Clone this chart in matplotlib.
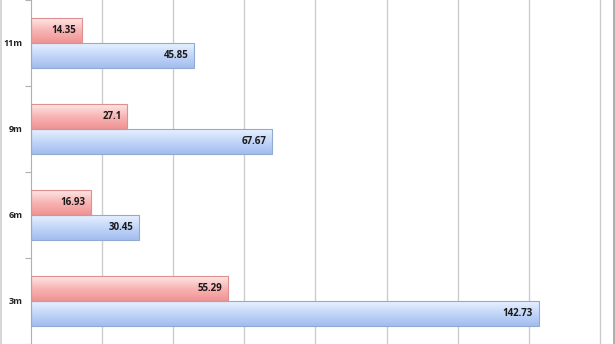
import numpy as np
import matplotlib
matplotlib.use('Agg')
import matplotlib.pyplot as plt
from matplotlib.colors import LinearSegmentedColormap
from matplotlib.lines import Line2D

categories = ['3m', '6m', '9m', '11m']
red_vals = [55.29, 16.93, 27.1, 14.35]
blue_vals = [142.73, 30.45, 67.67, 45.85]

plt.rcParams['font.family'] = ['Open Sans', 'DejaVu Sans']

fig = plt.figure(figsize=(6.15, 3.44), dpi=100)
ax = fig.add_axes([31 / 615, 0, 584 / 615, 1])

xmax = 584 / 3.556
h = 0.29
y = np.arange(len(categories))

red_cmap = LinearSegmentedColormap.from_list('r', ['#ffe6e6', '#f9b4b4', '#f09393'])
blue_cmap = LinearSegmentedColormap.from_list('b', ['#e8f0ff', '#c2d6f8', '#a2bdee'])
grad = np.linspace(0, 1, 64).reshape(-1, 1)


def gradient_bars(bars, cmap):
    for b in bars:
        x0, y0 = b.get_x(), b.get_y()
        w, hh = b.get_width(), b.get_height()
        im = ax.imshow(grad, cmap=cmap, aspect='auto', origin='upper',
                       extent=[x0, x0 + w, y0, y0 + hh], zorder=2)
        im.set_clip_path(b)


red_bars = ax.barh(y + h / 2, red_vals, height=h, color='none',
                   edgecolor='#dc9090', linewidth=0.8, zorder=3)
blue_bars = ax.barh(y - h / 2, blue_vals, height=h, color='none',
                    edgecolor='#90aad4', linewidth=0.8, zorder=3)
gradient_bars(red_bars, red_cmap)
gradient_bars(blue_bars, blue_cmap)

ax.set_xlim(0, xmax)
ax.set_ylim(-0.5, 3.5)

for vals, off in ((red_vals, h / 2), (blue_vals, -h / 2)):
    for yi, v in zip(y, vals):
        ax.annotate(f'{v:g}', (v, yi + off), xytext=(-4, 0), textcoords='offset points',
                    ha='right', va='center', fontsize=7, fontweight='bold',
                    color='#1a1a1a', zorder=4)

ax.set_xticks(np.arange(20, 161, 20))
ax.tick_params(axis='x', length=0, labelbottom=False)
ax.xaxis.grid(True, color='#cccccc', linewidth=1.0)
ax.set_axisbelow(True)

ax.set_yticks(np.arange(-0.5, 3.6, 1))
ax.set_yticklabels([])
ax.set_yticks(y, minor=True)
ax.set_yticklabels(categories, minor=True, fontsize=6.5, fontweight='bold', color='#222222')
ax.tick_params(axis='y', which='major', length=4, color='#b0b0b0', direction='out')
ax.tick_params(axis='y', which='minor', length=0, pad=6)

for s in ('top', 'right', 'bottom'):
    ax.spines[s].set_visible(False)
ax.spines['left'].set_color('#b0b0b0')

# outer frame edges of the chart area
fig.add_artist(Line2D([0.5 / 615, 0.5 / 615], [0, 1], transform=fig.transFigure,
                      color='#d0d0d0', linewidth=1.2))
fig.add_artist(Line2D([614.3 / 615, 614.3 / 615], [0, 1], transform=fig.transFigure,
                      color='#a0a0a0', linewidth=1.2))

fig.savefig('out.png', dpi=100)
